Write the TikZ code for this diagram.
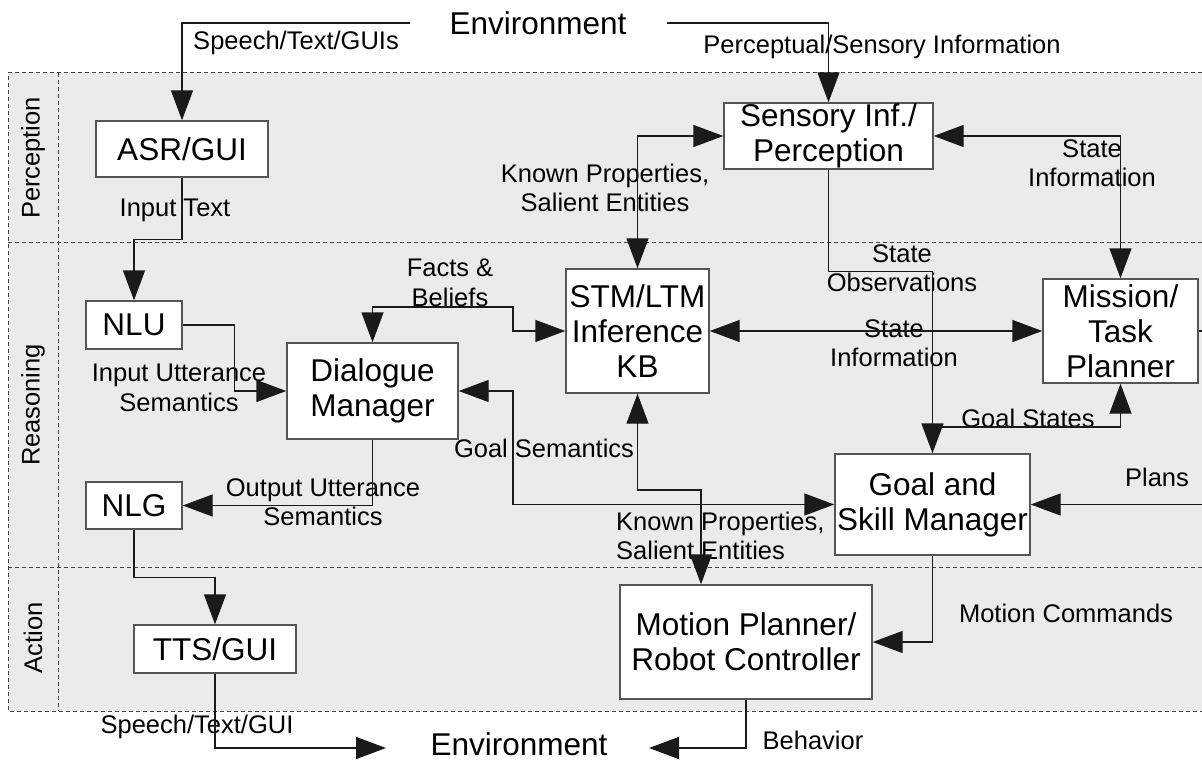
\documentclass[tikz,border=0pt]{standalone}
\usepackage{fontspec}
\setmainfont{Liberation Sans}
\usetikzlibrary{arrows.meta}
\definecolor{lanegray}{HTML}{EBEBEB}
\definecolor{boxborder}{HTML}{555555}
\definecolor{linecol}{HTML}{1A1A1A}
\definecolor{dashcol}{HTML}{444444}
\begin{document}
\begin{tikzpicture}[x=1pt,y=-1pt,
  box/.style={draw=boxborder, fill=white, line width=1.4pt, align=center, inner sep=0pt,
              font=\fontsize{31.5}{35}\selectfont},
  lbl/.style={align=center, inner sep=0pt, font=\fontsize{25.5}{29.5}\selectfont},
  big/.style={inner sep=0pt, font=\fontsize{31.5}{35}\selectfont},
  conn/.style={draw=linecol, line width=1.4pt},
  tip/.style={-{Triangle[length=30pt,width=22pt]}},
  dtip/.style={{Triangle[length=30pt,width=22pt]}-{Triangle[length=30pt,width=22pt]}},
  lane/.style={draw=dashcol, line width=1pt, dash pattern=on 4pt off 3pt},
  lanelbl/.style={rotate=90, inner sep=0pt, font=\fontsize{25.5}{29.5}\selectfont}]
\useasboundingbox (0,0) rectangle (1202,762);

% lanes
\fill[lanegray] (8,73) rectangle (1202,711);
\draw[lane] (1202,73) -- (8,73) -- (8,711) -- (1202,711);
\draw[lane] (8,243) -- (1202,243);
\draw[lane] (8,567) -- (1202,567);
\draw[lane] (58,73) -- (58,711);
\node[lanelbl] (lp) at (33,158) {Perception};
\node[lanelbl] (lr) at (33,405) {Reasoning};
\node[lanelbl] (la) at (33,638) {Action};

% environment texts
\node[big] (envtop) at (538,23) {Environment};
\node[big] (envbot) at (519,744) {Environment};

% boxes
\node[box, minimum width=172, minimum height=56] (asr) at (182,149) {ASR/GUI};
\node[box, minimum width=96, minimum height=48] (nlu) at (134,325) {NLU};
\node[box, minimum width=96, minimum height=47] (nlg) at (134,505.5) {NLG};
\node[box, minimum width=162, minimum height=48] (tts) at (215,649) {TTS/GUI};
\node[box, minimum width=171, minimum height=96] (dm) at (372.5,391) {Dialogue\\Manager};
\node[box, minimum width=143, minimum height=124] (stm) at (637.5,331) {STM/LTM\\Inference\\KB};
\node[box, minimum width=209, minimum height=66] (sens) at (828.5,136) {Sensory Inf./\\Perception};
\node[box, minimum width=155, minimum height=104] (mis) at (1120.5,331) {Mission/\\Task\\Planner};
\node[box, minimum width=195, minimum height=101] (goal) at (932.5,504.5) {Goal and\\Skill Manager};
\node[box, minimum width=252, minimum height=114] (mot) at (746,642) {Motion Planner/\\Robot Controller};

% labels
\node[lbl] (l1) at (296,43) {Speech/Text/GUIs};
\node[lbl] (l2) at (882,47) {Perceptual/Sensory Information};
\node[lbl] (l3) at (605,188) {Known Properties,\\Salient Entities};
\node[lbl] (l4) at (1092,163) {State\\Information};
\node[lbl] (l5) at (175,210) {Input Text};
\node[lbl] (l6) at (450,283) {Facts \&\\Beliefs};
\node[lbl] (l7) at (179,388) {Input Utterance\\Semantics};
\node[lbl] (l8) at (323,502) {Output Utterance\\Semantics};
\node[lbl] (l9) at (544,448) {Goal Semantics};
\node[lbl] (l10) at (902,268) {State\\Observations};
\node[lbl] (l11) at (894,343) {State\\Information};
\node[lbl] (l12) at (1028,418) {Goal States};
\node[lbl] (l13) at (1157,477) {Plans};
\node[lbl, align=left, anchor=west] (l14) at (616,536) {Known Properties,\\Salient Entities};
\node[lbl] (l15) at (1066,613) {Motion Commands};
\node[lbl] (l16) at (813,740) {Behavior};
\node[lbl] (l17) at (197,727) {Speech/Text/GUI};

% free ends
\coordinate (etl) at (410,23);
\coordinate (etr) at (667,23);
\coordinate (gs) at (932.5,427);
\coordinate (kp) at (701,490);
\coordinate (ebl) at (386,748);
\coordinate (ebr) at (649,748);
\coordinate (plr) at (1202,504.5);
\coordinate (misr) at (1202,331);
\coordinate (fb) at (513,307);
\coordinate (gsem) at (513,391);

% connectors
\draw[conn,tip] (etl) -| (asr.north);
\draw[conn,tip] (etr) -| (sens.north);
\draw[conn,dtip] (stm.north) |- (sens.west);
\draw[conn,dtip] (sens.east) -| (mis.north);
\draw[conn,tip] (sens.south) -- ++(0,102) -| (goal.north);
\draw[conn,tip] (gs) -| (mis.south);
\draw[conn,dtip] (stm.east) -- (mis.west);
\draw[conn] (mis.east) -- (misr);
\draw[conn,tip] (asr.south) -- ++(0,62) -| (nlu.north);
\draw[conn,tip] (nlu.east) -- ++(52,0) |- (dm.west);
\draw[conn,dtip] (dm.north) |- (fb) |- (stm.west);
\draw[conn,dtip] (dm.east) -- (gsem) |- (goal.west);
\draw[conn,dtip] (stm.south) |- (kp) -- (kp |- mot.north);
\draw[conn,tip] (dm.south) |- (nlg.east);
\draw[conn,tip] (nlg.south) -- ++(0,48) -| (tts.north);
\draw[conn,tip] (tts.south) |- (ebl);
\draw[conn,tip] (mot.south) |- (ebr);
\draw[conn,tip] (plr) -- (goal.east);
\draw[conn,tip] (goal.south) |- (mot.east);
\end{tikzpicture}
\end{document}
